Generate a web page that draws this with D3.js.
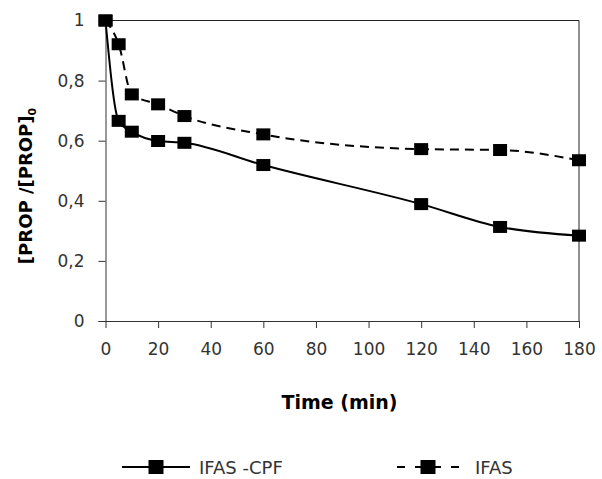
<!DOCTYPE html>
<html>
<head>
<meta charset="utf-8">
<script src="https://cdn.jsdelivr.net/npm/d3@7"></script>
<style>
  body { margin: 0; background: #fff; }
  text { font-family: "DejaVu Sans", "Open Sans", sans-serif; }
</style>
</head>
<body>
<script>
  let times = [0, 5, 10, 20, 30, 60, 120, 150, 180];
  let cpfValues = [1, 0.666, 0.63, 0.599, 0.593, 0.519, 0.389, 0.313, 0.284];
  let ifasValues = [1, 0.921, 0.754, 0.721, 0.682, 0.621, 0.572, 0.569, 0.535];
  let xTicks = [0, 20, 40, 60, 80, 100, 120, 140, 160, 180];
  let yTicks = [0, 0.2, 0.4, 0.6, 0.8, 1];
  let seriesNames = ["IFAS -CPF", "IFAS"];

  let width = 602, height = 479;
  let pLeft = 105.5, pRight = 579, pTop = 20.5, pBottom = 321;
  let mw = 14, mh = 12; // marker size

  let svg = d3.select("body").append("svg")
    .attr("width", width).attr("height", height);

  let x = d3.scaleLinear().domain([0, 180]).range([pLeft, pRight]);
  let y = d3.scaleLinear().domain([0, 1]).range([pBottom, pTop]);

  // plot box top / right
  svg.append("path")
    .attr("d", `M${pLeft},${pTop}H${pRight}V${pBottom}`)
    .attr("fill", "none").attr("stroke", "#222").attr("stroke-width", 1);

  let fmt = d => d === 0 || d === 1 ? String(d) : d.toFixed(1).replace(".", ",");

  let xAxis = svg.append("g")
    .attr("transform", `translate(0,${pBottom})`)
    .call(d3.axisBottom(x).tickValues(xTicks).tickSize(7));
  xAxis.select(".domain").attr("d", `M${pLeft - 7},0.5H${pRight}`);
  xAxis.selectAll(".tick text").attr("y", 34).attr("dy", 0);

  let yAxis = svg.append("g")
    .attr("transform", `translate(${pLeft},0)`)
    .call(d3.axisLeft(y).tickValues(yTicks).tickFormat(fmt).tickSize(7).tickPadding(14));
  yAxis.select(".domain").attr("d", `M0.5,${pTop}V${pBottom}`);

  svg.selectAll(".tick text")
    .style("font-size", "17px")
    .style("font-family", "'DejaVu Sans', sans-serif")
    .attr("fill", "#333");
  svg.selectAll(".domain, .tick line").attr("stroke", "#333");

  let line = d3.line()
    .x((d, i) => x(times[i]))
    .y(d => y(d))
    .curve(d3.curveMonotoneX);

  let series = [
    {name: seriesNames[0], values: cpfValues, dash: null},
    {name: seriesNames[1], values: ifasValues, dash: "9,6"}
  ];

  series.forEach(s => {
    svg.append("path")
      .attr("d", line(s.values))
      .attr("fill", "none")
      .attr("stroke", "#000")
      .attr("stroke-width", 2)
      .attr("stroke-dasharray", s.dash);
  });
  series.forEach(s => {
    svg.append("g").selectAll("rect")
      .data(s.values)
      .enter().append("rect")
      .attr("x", (d, i) => x(times[i]) - mw / 2)
      .attr("y", d => y(d) - mh / 2)
      .attr("width", mw).attr("height", mh)
      .attr("fill", "#000");
  });

  // axis titles
  svg.append("text")
    .attr("x", 339.5).attr("y", 409)
    .attr("text-anchor", "middle")
    .style("font-size", "19px").style("font-weight", "bold")
    .text("Time (min)");

  let yt = svg.append("text")
    .attr("transform", "translate(32,186) rotate(-90)")
    .attr("text-anchor", "middle")
    .style("font-size", "18px").style("font-weight", "bold");
  yt.append("tspan").text("[PROP /[PROP]");
  yt.append("tspan").attr("dy", 4).style("font-size", "11px").text("0");

  // legend
  let legY = 467;
  let leg = [
    {x1: 122, x2: 190, tx: 199, dash: null},
    {x1: 397, x2: 459, tx: 475, dash: "8,10"}
  ];
  leg.forEach((l, i) => {
    svg.append("line")
      .attr("x1", l.x1).attr("x2", l.x2).attr("y1", legY).attr("y2", legY)
      .attr("stroke", "#000").attr("stroke-width", 2)
      .attr("stroke-dasharray", l.dash);
    svg.append("rect")
      .attr("x", (l.x1 + l.x2) / 2 - 7.5).attr("y", legY - 7)
      .attr("width", 15).attr("height", 14).attr("fill", "#000");
    svg.append("text")
      .attr("x", l.tx).attr("y", legY + 7)
      .style("font-size", "18px").attr("fill", "#333")
      .text(seriesNames[i]);
  });
</script>
</body>
</html>
